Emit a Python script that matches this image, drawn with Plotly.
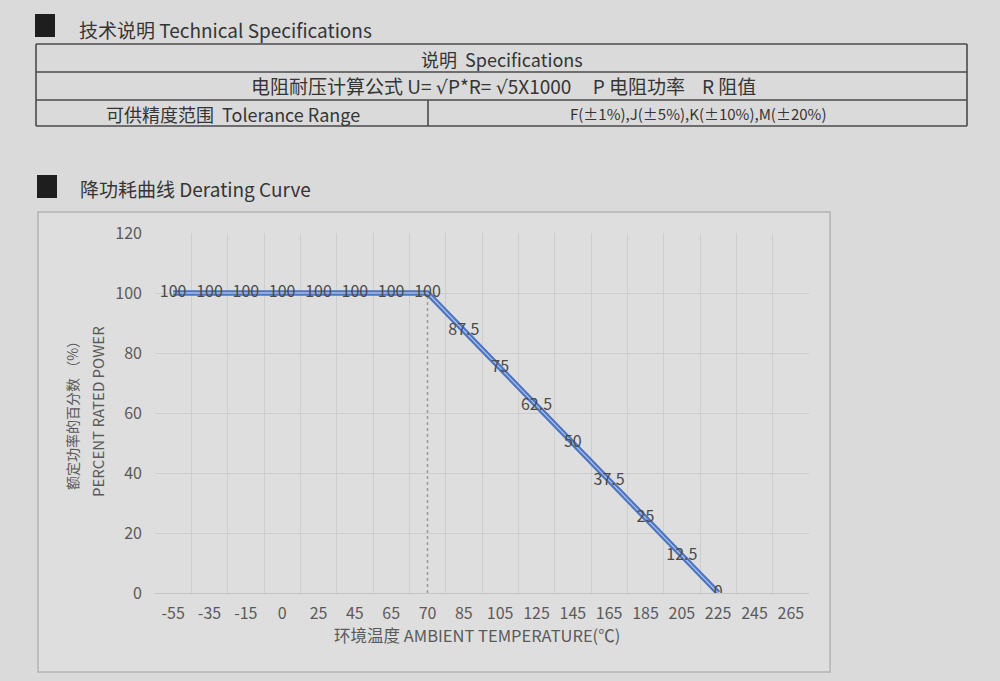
import plotly.graph_objects as go

# ---- data ----
temps = ["-55", "-35", "-15", "0", "25", "45", "65", "70", "85", "105",
         "125", "145", "165", "185", "205", "225", "245", "265"]
power_temps = ["-55", "-35", "-15", "0", "25", "45", "65", "70", "85", "105",
               "125", "145", "165", "185", "205", "225"]
power_pct = [100, 100, 100, 100, 100, 100, 100, 100, 87.5, 75,
             62.5, 50, 37.5, 25, 12.5, 0]
power_labels = ["100", "100", "100", "100", "100", "100", "100", "100", "87.5", "75",
                "62.5", "50", "37.5", "25", "12.5", "0"]
knee_temp = "70"
knee_y = [0, 100]
y_ticks = [0, 20, 40, 60, 80, 100, 120]

W, H = 1000, 681
FONT = "Noto Sans CJK SC, Noto Sans, sans-serif"
TXT = "#353535"
AX = "#5a5a5a"
BG = "#dadada"


def px(x):
    return x / W


def py(y):
    return 1 - y / H


fig = go.Figure()

# dashed knee line
fig.add_trace(go.Scatter(x=[knee_temp, knee_temp], y=knee_y, mode="lines",
                         line=dict(color="#9a9a9a", width=1.5, dash="3px,3px"),
                         hoverinfo="skip", showlegend=False))
# main curve (double-line look)
fig.add_trace(go.Scatter(x=power_temps, y=power_pct, mode="lines",
                         line=dict(color="#4c74c2", width=5.5),
                         hoverinfo="skip", showlegend=False))
fig.add_trace(go.Scatter(x=power_temps, y=power_pct, mode="lines+text",
                         line=dict(color="#a9bfe6", width=1.3),
                         text=power_labels, textposition="middle center",
                         textfont=dict(family=FONT, size=16, color="#4a4a4a"),
                         hoverinfo="skip", showlegend=False))

shapes = []
# title squares
shapes.append(dict(type="rect", xref="paper", yref="paper",
                   x0=px(35), x1=px(55), y0=py(37), y1=py(14),
                   fillcolor="#1e1e1e", line=dict(width=0), layer="below"))
shapes.append(dict(type="rect", xref="paper", yref="paper",
                   x0=px(37), x1=px(57), y0=py(198), y1=py(175),
                   fillcolor="#1e1e1e", line=dict(width=0), layer="below"))
# table
tl, tr = 36, 967
for yy in [44, 72, 100, 126]:
    shapes.append(dict(type="line", xref="paper", yref="paper",
                       x0=px(tl), x1=px(tr), y0=py(yy), y1=py(yy),
                       line=dict(color="#4a4a4a", width=1.6)))
for xx in [tl, tr]:
    shapes.append(dict(type="line", xref="paper", yref="paper",
                       x0=px(xx), x1=px(xx), y0=py(44), y1=py(126),
                       line=dict(color="#4a4a4a", width=1.6)))
shapes.append(dict(type="line", xref="paper", yref="paper",
                   x0=px(428), x1=px(428), y0=py(100), y1=py(126),
                   line=dict(color="#4a4a4a", width=1.6)))
# chart box
shapes.append(dict(type="rect", xref="paper", yref="paper",
                   x0=px(38), x1=px(830), y0=py(672), y1=py(212),
                   fillcolor="#dedede", line=dict(color="#b4b4b4", width=1.5),
                   layer="below"))

ann = []


def text(x, y, s, size=16, xanchor="left", color=TXT, angle=0):
    ann.append(dict(x=px(x), y=py(y), xref="paper", yref="paper", text=s,
                    showarrow=False, xanchor=xanchor, yanchor="middle",
                    textangle=angle,
                    font=dict(family=FONT, size=size, color=color)))


SQ = '<span style="font-family:DejaVu Sans">√</span>'
SP = "&nbsp;"
text(77, 29, "技术说明 Technical Specifications", 19)
text(502, 59, "说明  Specifications", 18, "center")
text(503, 86, "电阻耐压计算公式 U= " + SQ + "P*R= " + SQ + "5X1000" + SP * 5
     + "P 电阻功率" + SP * 4 + "R 阻值", 19, "center")
text(233, 114, "可供精度范围  Tolerance Range", 18, "center")
text(698, 114, "F(±1%),J(±5%),K(±10%),M(±20%)", 15, "center")
text(78, 189, "降功耗曲线 Derating Curve", 19)
text(72, 412, "额定功率的百分数 （%）", 14, "center", AX, -90)
text(97, 412, "PERCENT RATED POWER", 15, "center", AX, -90)
text(477, 635, "环境温度 AMBIENT TEMPERATURE(℃)", 16.5, "center", AX)

fig.update_layout(
    width=W, height=H,
    margin=dict(l=0, r=0, t=0, b=0, autoexpand=False),
    paper_bgcolor=BG, plot_bgcolor="rgba(0,0,0,0)",
    shapes=shapes, annotations=ann,
    xaxis=dict(domain=[px(155), px(809)], type="category",
               categoryorder="array", categoryarray=temps,
               range=[-0.5, len(temps) - 0.5], automargin=False,
               tickson="boundaries", showgrid=True, gridcolor="#cdcdcd",
               gridwidth=1, showline=True, linecolor="#c4c4c4", linewidth=1,
               ticks="", ticklabelstandoff=6, zeroline=False,
               tickfont=dict(family=FONT, size=16, color=AX)),
    yaxis=dict(domain=[py(593), py(233)], range=[0, 120], automargin=False,
               tickvals=y_ticks, showgrid=True, gridcolor="#cdcdcd",
               gridwidth=1, zeroline=False, showline=False, ticks="",
               ticklabelstandoff=12,
               tickfont=dict(family=FONT, size=16, color=AX)),
    font=dict(family=FONT),
)

fig.write_html(
    "out.html",
    config={"displayModeBar": False},
    post_script="document.body.style.margin='0';document.body.style.background='" + BG + "';",
)
